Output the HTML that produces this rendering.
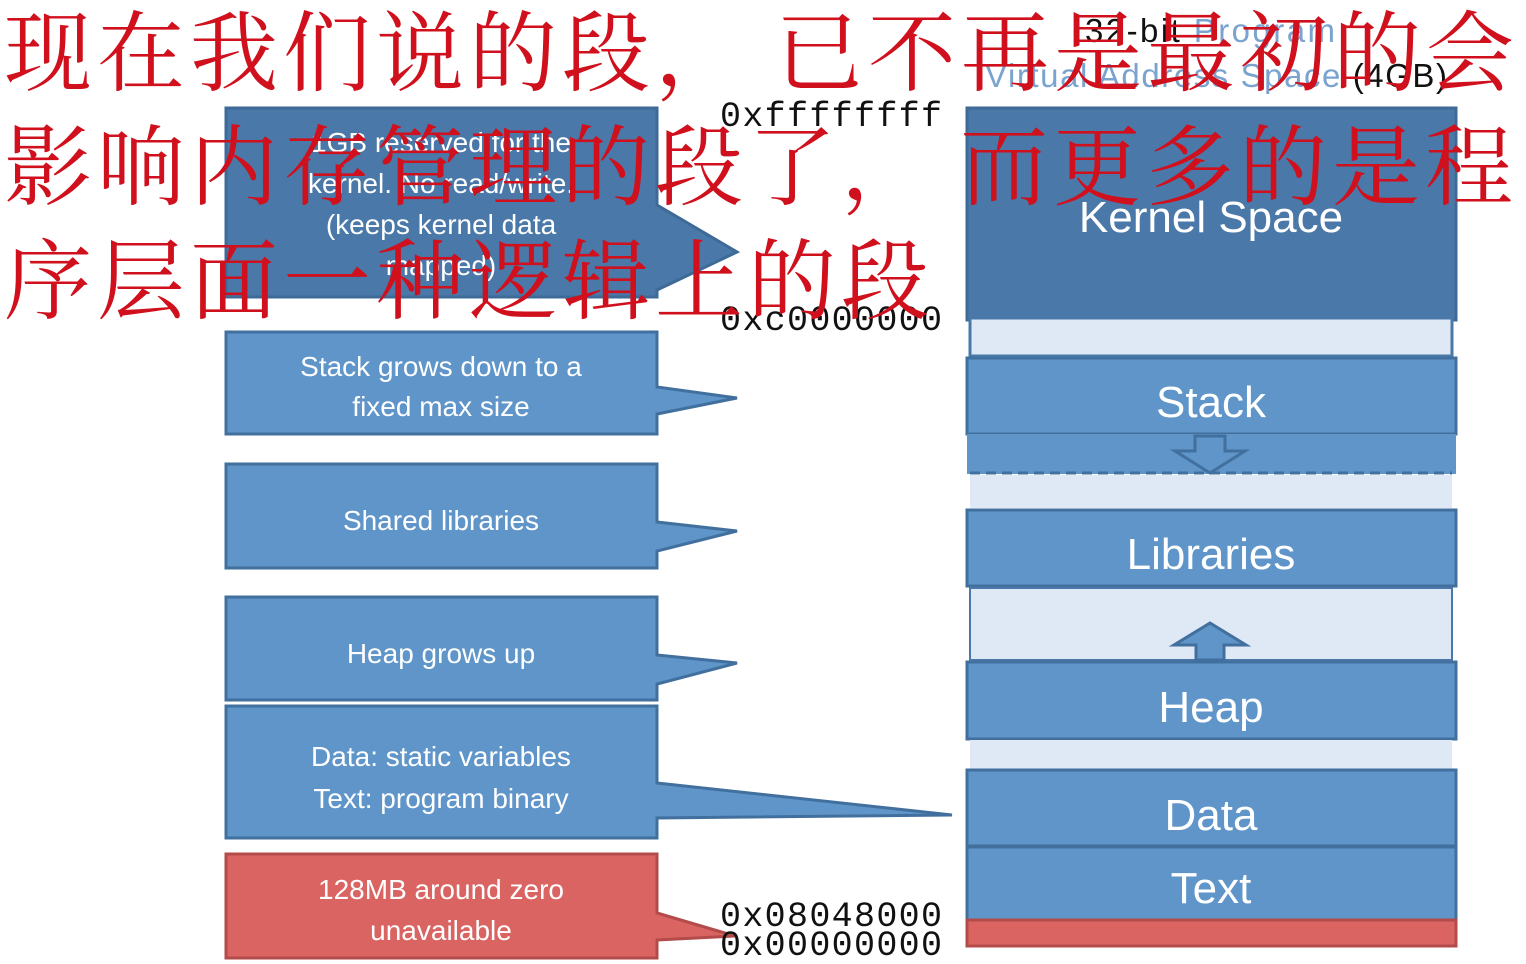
<!DOCTYPE html>
<html><head><meta charset="utf-8"><style>
html,body{margin:0;padding:0;background:#fff;width:1526px;height:964px;overflow:hidden;position:relative}
.cn{position:absolute;font-family:"Liberation Serif","Noto Serif CJK SC",serif;font-size:88px;color:#d0101c;letter-spacing:5px;line-height:1;white-space:nowrap}
</style></head><body>
<svg width="1526" height="964" style="position:absolute;left:0;top:0" xmlns="http://www.w3.org/2000/svg">
<g font-family="Liberation Sans, sans-serif" fill="#fff">
<rect x="967" y="108" width="489" height="212" fill="#4a78a8" stroke="#3e6a98" stroke-width="3"/>
<rect x="970" y="318" width="482" height="38" fill="#dfe9f5" stroke="#4a78a8" stroke-width="3"/>
<rect x="967" y="358" width="489" height="76" fill="#5f95c9" stroke="#41709e" stroke-width="3"/>
<rect x="967" y="434" width="489" height="40" fill="#5f95c9"/>
<line x1="970" y1="473" x2="1452" y2="473" stroke="#41709e" stroke-width="3" stroke-dasharray="10,6"/>
<rect x="970" y="475" width="482" height="33" fill="#dfe9f5"/>
<path d="M1195 436 h30 v15 h20 l-35 22 l-35 -22 h20 z" fill="#5f95c9" stroke="#41709e" stroke-width="3"/>
<rect x="967" y="510" width="489" height="76" fill="#5f95c9" stroke="#41709e" stroke-width="3"/>
<rect x="970" y="588" width="482" height="72" fill="#dfe9f5" stroke="#4a78a8" stroke-width="2"/>
<path d="M1196 660 v-15 h-22 l36 -22 l36 22 h-22 v15 z" fill="#5f95c9" stroke="#41709e" stroke-width="3"/>
<rect x="967" y="662" width="489" height="77" fill="#5f95c9" stroke="#41709e" stroke-width="3"/>
<rect x="970" y="740" width="482" height="29" fill="#dfe9f5"/>
<rect x="967" y="770" width="489" height="76" fill="#5f95c9" stroke="#41709e" stroke-width="3"/>
<rect x="967" y="847" width="489" height="73" fill="#5f95c9" stroke="#41709e" stroke-width="3"/>
<rect x="967" y="920" width="489" height="26" fill="#d96462" stroke="#b24b49" stroke-width="3"/>
<g font-size="44" text-anchor="middle">
<text x="1211" y="232">Kernel Space</text>
<text x="1211" y="417">Stack</text>
<text x="1211" y="569">Libraries</text>
<text x="1211" y="722">Heap</text>
<text x="1211" y="830">Data</text>
<text x="1211" y="903">Text</text>
</g>
<path d="M226 108 H657 V205 L737 252 L657 290 V297 H226 Z" fill="#4a78a8" stroke="#3e6a98" stroke-width="3"/>
<path d="M226 332 H657 V387 L737 398 L657 414 V434 H226 Z" fill="#5f95c9" stroke="#41709e" stroke-width="3"/>
<path d="M226 464 H657 V522 L737 531 L657 551 V568 H226 Z" fill="#5f95c9" stroke="#41709e" stroke-width="3"/>
<path d="M226 597 H657 V655 L737 663 L657 684 V700 H226 Z" fill="#5f95c9" stroke="#41709e" stroke-width="3"/>
<path d="M226 706 H657 V783 L952 815 L657 818 V838 H226 Z" fill="#5f95c9" stroke="#41709e" stroke-width="3"/>
<path d="M226 854 H657 V913 L735 936 L657 940 V958 H226 Z" fill="#d96462" stroke="#b24b49" stroke-width="3"/>
<g font-size="28" text-anchor="middle">
<text x="441" y="152">1GB reserved for the</text>
<text x="441" y="193">kernel. No read/write.</text>
<text x="441" y="234">(keeps kernel data</text>
<text x="441" y="275">mapped)</text>
<text x="441" y="376">Stack grows down to a</text>
<text x="441" y="416">fixed max size</text>
<text x="441" y="530">Shared libraries</text>
<text x="441" y="663">Heap grows up</text>
<text x="441" y="766">Data: static variables</text>
<text x="441" y="808">Text: program binary</text>
<text x="441" y="899">128MB around zero</text>
<text x="441" y="940">unavailable</text>
</g>
</g>
<g font-family="Liberation Mono, monospace" font-size="35" fill="#111">
<text x="720" y="126" textLength="222">0xffffffff</text>
<text x="720" y="330" textLength="222">0xc0000000</text>
<text x="720" y="926" textLength="222">0x08048000</text>
<text x="720" y="955" textLength="222">0x00000000</text>
</g>
<g font-family="Liberation Sans, sans-serif" font-size="33">
<text x="1085" y="42" fill="#111" textLength="250">32-bit <tspan fill="#7aa3cf">Program</tspan></text>
<text x="985" y="87" fill="#7aa3cf" textLength="462">Virtual Address Space <tspan fill="#111">(4GB)</tspan></text>
</g>
</svg>
<div class="cn" style="left:4px;top:12px">现在我们说的段，</div>
<div class="cn" style="left:775px;top:12px">已不再是最初的会</div>
<div class="cn" style="left:4px;top:126px">影响内存管理的段了，</div>
<div class="cn" style="left:960px;top:126px">而更多的是程</div>
<div class="cn" style="left:4px;top:240px">序层面一种逻辑上的段</div>
</body></html>
